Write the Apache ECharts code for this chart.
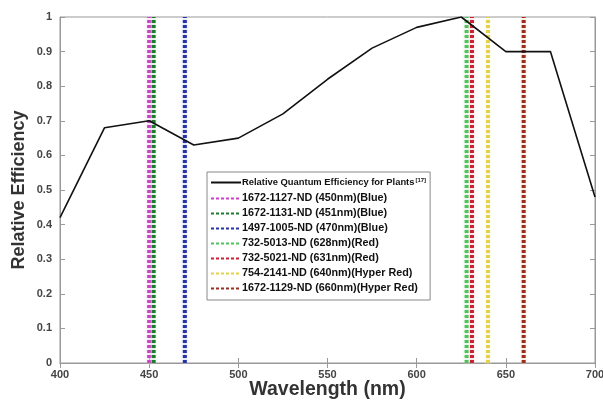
<!DOCTYPE html>
<html>
<head>
<meta charset="utf-8">
<script src="https://cdn.jsdelivr.net/npm/echarts@6/dist/echarts.min.js"></script>
<style>
  html, body { margin: 0; padding: 0; background: #fff; }
  #chart { width: 603px; height: 403px; }
</style>
</head>
<body>
<div id="chart"></div>
<script>
// relative quantum efficiency curve
const wavelengths = [400, 425, 450, 475, 500, 525, 550, 575, 600, 625, 650, 675, 700]
const efficiency = [0.42, 0.68, 0.70, 0.63, 0.65, 0.72, 0.82, 0.91, 0.97, 1.0, 0.90, 0.90, 0.48]

// LED peak wavelengths (vertical markers)
const ledNames = [
  '1672-1127-ND (450nm)(Blue)',
  '1672-1131-ND (451nm)(Blue)',
  '1497-1005-ND (470nm)(Blue)',
  '732-5013-ND (628nm)(Red)',
  '732-5021-ND (631nm)(Red)',
  '754-2141-ND (640nm)(Hyper Red)',
  '1672-1129-ND (660nm)(Hyper Red)'
]
const ledPeaks = [450, 452.5, 470, 628, 631, 640, 660]
const ledColors = ['#cc3fc8', '#1d7a2e', '#2533a6', '#4fc25a', '#c92035', '#e6d24a', '#9a2e1e']
const ledHalo = ['#f3c6f0', '#b8dcbc', '#c2c6ee', '#c4ecc6', '#f4c0c6', '#f6efbe', '#f2cdbf']

const curveName = 'Relative Quantum Efficiency for Plants'

const chart = echarts.init(document.getElementById('chart'))

const ledSeries = ledNames.map((name, i) => ({
  name: name,
  type: 'line',
  symbol: 'none',
  silent: true,
  z: 2,
  data: [[ledPeaks[i], 0], [ledPeaks[i], 1]],
  itemStyle: { color: ledColors[i] },
  lineStyle: {
    color: ledColors[i],
    width: 4,
    type: [3, 2],
    cap: 'butt',
    shadowColor: ledHalo[i],
    shadowBlur: 3
  }
}))

const axisLabelStyle = { color: '#444', fontWeight: 'bold', fontSize: 11, fontFamily: 'Liberation Sans' }

const option = {
  animation: false,
  grid: {
    left: 60, right: 8, top: 17, bottom: 40,
    outerBoundsMode: 'none',
    show: true, borderColor: '#999', borderWidth: 1
  },
  legend: {
    orient: 'vertical',
    left: 207,
    top: 172,
    padding: [5, 4, 6, 3],
    itemGap: 4,
    itemWidth: 30,
    itemHeight: 10,
    backgroundColor: '#fff',
    borderColor: '#888',
    borderWidth: 1,
    borderRadius: 0,
    itemStyle: { opacity: 0 },
    data: [curveName].concat(ledNames),
    formatter: (name) => name === curveName ? '{a|' + name + '}{sup|[17]}' : name,
    textStyle: {
      color: '#111',
      fontWeight: 'bold',
      fontSize: 10.8,
      lineHeight: 11,
      fontFamily: 'Liberation Sans',
      padding: [0, 0, 0, -4],
      rich: {
        a: { fontWeight: 'bold', fontSize: 9.4, lineHeight: 11, fontFamily: 'Liberation Sans', color: '#111' },
        sup: { fontWeight: 'bold', fontSize: 6, lineHeight: 11, fontFamily: 'Liberation Sans', color: '#111', verticalAlign: 'top', padding: [0, 0, 6, 1] }
      }
    }
  },
  xAxis: [
    {
      type: 'value',
      min: 400,
      max: 700,
      interval: 50,
      name: 'Wavelength (nm)',
      nameLocation: 'middle',
      nameGap: 17,
      nameMoveOverlap: false,
      nameTextStyle: { color: '#333', fontWeight: 'bold', fontSize: 19.5, fontFamily: 'Liberation Sans' },
      axisLine: { lineStyle: { color: '#999' } },
      axisTick: { inside: true, length: 5, lineStyle: { color: '#999' } },
      axisLabel: Object.assign({ margin: 6 }, axisLabelStyle),
      splitLine: { show: false }
    },
    {
      type: 'value',
      min: 400,
      max: 700,
      interval: 50,
      position: 'top',
      axisLine: { lineStyle: { color: '#999' } },
      axisTick: { inside: true, length: 5, lineStyle: { color: '#999' } },
      axisLabel: { show: false },
      splitLine: { show: false }
    }
  ],
  yAxis: [
    {
      type: 'value',
      min: 0,
      max: 1,
      interval: 0.1,
      name: 'Relative Efficiency',
      nameLocation: 'middle',
      nameGap: 32,
      nameMoveOverlap: false,
      nameTextStyle: { color: '#333', fontWeight: 'bold', fontSize: 18, fontFamily: 'Liberation Sans' },
      axisLine: { show: true, lineStyle: { color: '#999' } },
      axisTick: { show: true, inside: true, length: 5, lineStyle: { color: '#999' } },
      axisLabel: Object.assign({ margin: 8 }, axisLabelStyle),
      splitLine: { show: false }
    },
    {
      type: 'value',
      min: 0,
      max: 1,
      interval: 0.1,
      position: 'right',
      axisLine: { show: true, lineStyle: { color: '#999' } },
      axisTick: { show: true, inside: true, length: 5, lineStyle: { color: '#999' } },
      axisLabel: { show: false },
      splitLine: { show: false }
    }
  ],
  series: [
    {
      name: curveName,
      type: 'line',
      symbol: 'none',
      z: 3,
      data: wavelengths.map((w, i) => [w, efficiency[i]]),
      itemStyle: { color: '#111' },
      lineStyle: { color: '#111', width: 1.6 }
    }
  ].concat(ledSeries)
}

chart.setOption(option)
</script>
</body>
</html>
